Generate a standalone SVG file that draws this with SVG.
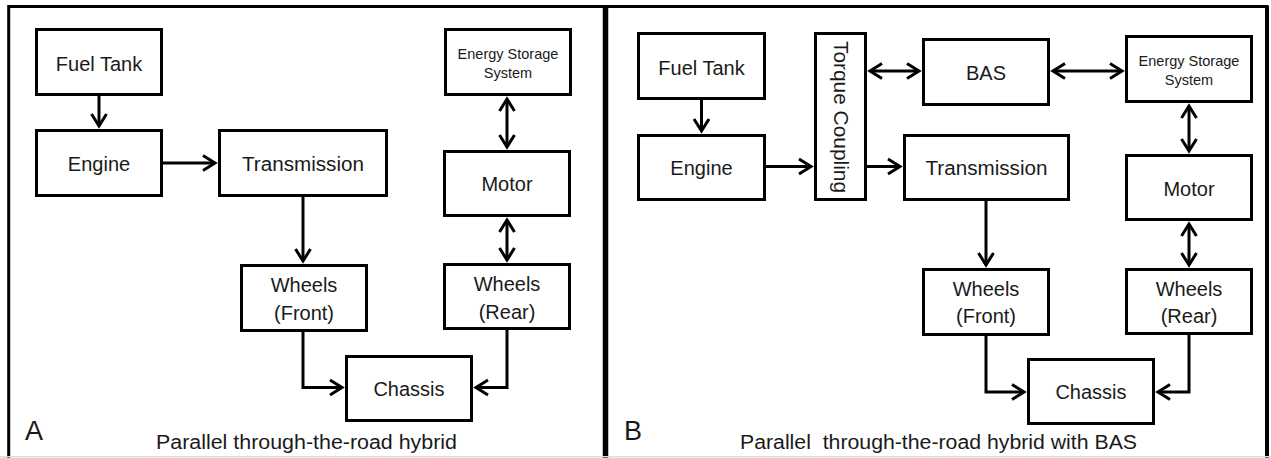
<svg xmlns="http://www.w3.org/2000/svg" width="1271" height="458" viewBox="0 0 1271 458">
  <defs>
    <style>
      .box { fill: #fff; stroke: #000; stroke-width: 3; }
      .lbl { font-family: "Liberation Sans", Arial, sans-serif; font-size: 20px; fill: #1a1a1a; text-anchor: middle; }
      .sm { font-size: 14.5px; }
      .cap { font-family: "Liberation Sans", Arial, sans-serif; font-size: 20px; fill: #1a1a1a; }
      .tag { font-family: "Liberation Sans", Arial, sans-serif; font-size: 27px; fill: #1a1a1a; }
      .wire { fill: none; stroke: #000; stroke-width: 3; }
      .one { marker-end: url(#head); }
      .two { marker-start: url(#head); marker-end: url(#head); }
    </style>
    <marker id="head" markerUnits="userSpaceOnUse" markerWidth="24" markerHeight="24" viewBox="-18 -12 24 24" refX="0" refY="0" orient="auto-start-reverse" overflow="visible">
      <path d="M-12,-7.5 L0,0 L-12,7.5" fill="none" stroke="#000" stroke-width="3" stroke-linejoin="miter"/>
    </marker>
  </defs>

  <rect width="1271" height="458" fill="#fff"/>

  <!-- panel frames -->
  <g id="frame">
    <path d="M8.7,470 V6.5 H1267 V470" fill="none" stroke="#000" stroke-width="3"/>
    <line x1="1267" y1="6" x2="1267" y2="458" stroke="#000" stroke-width="4"/>
    <line x1="605.5" y1="6" x2="605.5" y2="458" stroke="#000" stroke-width="5.5"/>
    <line x1="0" y1="456.8" x2="1271" y2="456.8" stroke="#dcdcdc" stroke-width="1.5"/>
  </g>

  <!-- connectors -->
  <g id="connectors">
    <!-- panel A -->
    <path class="wire one" d="M99,96 V126"/>
    <path class="wire one" d="M163,163 H215"/>
    <path class="wire one" d="M303,197 V261"/>
    <path class="wire two" d="M507,99 V147"/>
    <path class="wire two" d="M507,220 V260"/>
    <path class="wire one" d="M303,332 V387.5 H342"/>
    <path class="wire one" d="M507,330 V387.5 H476"/>
    <!-- panel B -->
    <path class="wire one" d="M701.5,100 V131"/>
    <path class="wire one" d="M766,166.5 H811"/>
    <path class="wire one" d="M867,166.5 H900"/>
    <path class="wire two" d="M870,71 H919"/>
    <path class="wire two" d="M1053,71 H1122"/>
    <path class="wire two" d="M1189,106 V151"/>
    <path class="wire two" d="M1189,224 V265"/>
    <path class="wire one" d="M986,201 V265"/>
    <path class="wire one" d="M986,336 V392 H1024"/>
    <path class="wire one" d="M1189,335 V392 H1158"/>
  </g>

  <!-- panel A nodes -->
  <g id="a-fuel-tank">
    <rect class="box" x="36.5" y="29.5" width="125" height="65"/>
    <text class="lbl" x="99" y="71">Fuel Tank</text>
  </g>
  <g id="a-engine">
    <rect class="box" x="36.5" y="130.5" width="125" height="65"/>
    <text class="lbl" x="99" y="171">Engine</text>
  </g>
  <g id="a-transmission">
    <rect class="box" x="219.5" y="130.5" width="167" height="65"/>
    <text class="lbl" x="303" y="171" textLength="122" lengthAdjust="spacingAndGlyphs">Transmission</text>
  </g>
  <g id="a-energy-storage">
    <rect class="box" x="445.5" y="29.5" width="125" height="65"/>
    <text class="lbl sm" x="508" y="58.5">Energy Storage</text>
    <text class="lbl sm" x="508" y="77.5">System</text>
  </g>
  <g id="a-motor">
    <rect class="box" x="444.5" y="151.5" width="125" height="64"/>
    <text class="lbl" x="507" y="191">Motor</text>
  </g>
  <g id="a-wheels-front">
    <rect class="box" x="241.5" y="265.5" width="125" height="65"/>
    <text class="lbl" x="304" y="292">Wheels</text>
    <text class="lbl" x="304" y="320">(Front)</text>
  </g>
  <g id="a-wheels-rear">
    <rect class="box" x="444.5" y="264.5" width="125" height="64"/>
    <text class="lbl" x="507" y="291">Wheels</text>
    <text class="lbl" x="507" y="319">(Rear)</text>
  </g>
  <g id="a-chassis">
    <rect class="box" x="346.5" y="356.5" width="125" height="64"/>
    <text class="lbl" x="409" y="396">Chassis</text>
  </g>
  <g id="a-caption">
    <text class="tag" x="25" y="440">A</text>
    <text class="cap" x="156" y="449" textLength="301" lengthAdjust="spacingAndGlyphs">Parallel through-the-road hybrid</text>
  </g>

  <!-- panel B nodes -->
  <g id="b-fuel-tank">
    <rect class="box" x="638.5" y="33.5" width="126" height="65"/>
    <text class="lbl" x="701.5" y="75">Fuel Tank</text>
  </g>
  <g id="b-engine">
    <rect class="box" x="638.5" y="135.5" width="126" height="64"/>
    <text class="lbl" x="701.5" y="175">Engine</text>
  </g>
  <g id="b-torque-coupling">
    <rect class="box" x="815.5" y="33.5" width="50" height="166"/>
    <text class="lbl" x="0" y="0" transform="translate(833.5,117) rotate(90)" textLength="152" lengthAdjust="spacingAndGlyphs">Torque Coupling</text>
  </g>
  <g id="b-bas">
    <rect class="box" x="923.5" y="39.5" width="125" height="65"/>
    <text class="lbl" x="986" y="80">BAS</text>
  </g>
  <g id="b-transmission">
    <rect class="box" x="904.5" y="135.5" width="164" height="64"/>
    <text class="lbl" x="986.5" y="175" textLength="122" lengthAdjust="spacingAndGlyphs">Transmission</text>
  </g>
  <g id="b-energy-storage">
    <rect class="box" x="1126.5" y="36.5" width="125" height="65"/>
    <text class="lbl sm" x="1189" y="65.5">Energy Storage</text>
    <text class="lbl sm" x="1189" y="85">System</text>
  </g>
  <g id="b-motor">
    <rect class="box" x="1126.5" y="155.5" width="125" height="64"/>
    <text class="lbl" x="1189" y="195.5">Motor</text>
  </g>
  <g id="b-wheels-front">
    <rect class="box" x="923.5" y="269.5" width="125" height="65"/>
    <text class="lbl" x="986" y="295.5">Wheels</text>
    <text class="lbl" x="986" y="323">(Front)</text>
  </g>
  <g id="b-wheels-rear">
    <rect class="box" x="1126.5" y="269.5" width="125" height="64"/>
    <text class="lbl" x="1189" y="295.5">Wheels</text>
    <text class="lbl" x="1189" y="323">(Rear)</text>
  </g>
  <g id="b-chassis">
    <rect class="box" x="1028.5" y="359.5" width="125" height="64"/>
    <text class="lbl" x="1091" y="398.5">Chassis</text>
  </g>
  <g id="b-caption">
    <text class="tag" x="624" y="440">B</text>
    <text class="cap" x="740" y="449" textLength="397" lengthAdjust="spacingAndGlyphs" xml:space="preserve">Parallel  through-the-road hybrid with BAS</text>
  </g>
</svg>
